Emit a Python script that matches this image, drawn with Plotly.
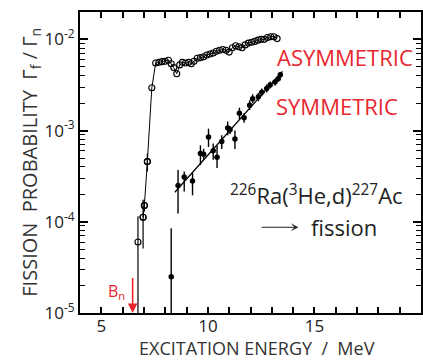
import plotly.graph_objects as go

# Asymmetric fission: open circles joined by a line
asym_e = [6.96, 7.02, 7.16, 7.37, 7.55, 7.70, 7.85, 8.00, 8.15, 8.28, 8.40, 8.54,
          8.68, 8.80, 8.95, 9.10, 9.22, 9.35, 9.50, 9.65, 9.80, 9.95, 10.10, 10.25,
          10.40, 10.55, 10.70, 10.85, 11.00, 11.15, 11.30, 11.45, 11.60, 11.75, 11.90,
          12.05, 12.20, 12.35, 12.50, 12.65, 12.80, 12.95, 13.10, 13.25]
asym_p = [1.12e-4, 1.51e-4, 4.57e-4, 2.95e-3, 5.5e-3, 5.6e-3, 5.7e-3, 5.75e-3, 5.9e-3,
          5.4e-3, 4.9e-3, 4.2e-3, 5.25e-3, 5.6e-3, 5.5e-3, 5.6e-3, 5.4e-3, 5.75e-3,
          6.2e-3, 6.3e-3, 6.45e-3, 6.75e-3, 6.9e-3, 7.1e-3, 7.4e-3, 7.6e-3, 7.75e-3,
          7.6e-3, 7.25e-3, 8.1e-3, 8.5e-3, 8.3e-3, 8.1e-3, 8.7e-3, 9.1e-3, 9.3e-3,
          9.5e-3, 9.8e-3, 1.0e-2, 1.0e-2, 1.05e-2, 1.07e-2, 1.07e-2, 1.02e-2]

# Asymmetric points near threshold with error bars (upper / lower ends)
asym_err_e = [6.72, 6.96, 7.02, 7.16]
asym_err_p = [6.0e-5, 1.12e-4, 1.51e-4, 4.57e-4]
asym_err_hi = [1.15e-4, 1.74e-4, 1.75e-4, 5.6e-4]
asym_err_lo = [1e-6, 5.1e-5, 1.3e-4, 3.55e-4]

# Symmetric fission: filled points with error bars
sym_e = [8.28, 8.60, 8.89, 9.28, 9.65, 9.80, 10.03, 10.25, 10.43, 10.65, 10.93, 11.04,
         11.27, 11.48, 11.70, 11.96, 12.10, 12.37, 12.53, 12.76, 12.92, 13.15, 13.30, 13.40]
sym_p = [2.5e-5, 2.5e-4, 3.1e-4, 2.8e-4, 5.6e-4, 5.5e-4, 8.5e-4, 6.0e-4, 5.1e-4, 7.6e-4,
         1.07e-3, 1.02e-3, 8.1e-4, 1.55e-3, 1.38e-3, 1.9e-3, 2.24e-3, 2.35e-3, 2.63e-3,
         2.9e-3, 3.16e-3, 3.4e-3, 3.7e-3, 4.1e-3]
sym_hi = [8.5e-5, 3.7e-4, 3.55e-4, 3.45e-4, 6.9e-4, 6.3e-4, 1.05e-3, 7.2e-4, 6.8e-4, 8.9e-4,
          1.26e-3, 1.12e-3, 1.0e-3, 1.78e-3, 1.55e-3, 2.15e-3, 2.5e-3, 2.6e-3, 2.9e-3,
          3.2e-3, 3.45e-3, 3.7e-3, 4.0e-3, 4.4e-3]
sym_lo = [1e-6, 1.23e-4, 2.15e-4, 1.95e-4, 4.2e-4, 4.8e-4, 6.6e-4, 4.8e-4, 3.9e-4, 6.3e-4,
          8.9e-4, 9.2e-4, 6.3e-4, 1.32e-3, 1.22e-3, 1.68e-3, 2.0e-3, 2.1e-3, 2.38e-3,
          2.62e-3, 2.9e-3, 3.1e-3, 3.4e-3, 3.8e-3]

# Straight-line fit through the symmetric data
fit_e = [8.45, 13.50]
fit_p = [2.11e-4, 4.45e-3]

# Neutron binding energy
bn_e = 6.47

x_tickvals = [5, 10, 15]
x_ticktext = ["5", "10", "15"]
x_minor = [v for v in range(4, 21) if v not in x_tickvals]
y_tickvals = [1e-5, 1e-4, 1e-3, 1e-2]
y_ticktext = ["10<sup>-5</sup>", "10<sup>-4</sup>", "10<sup>-3</sup>", "10<sup>-2</sup>"]
y_minor = [m * 10.0 ** k for k in (-5, -4, -3, -2) for m in range(2, 10)]

RED = "#e8262e"
INK = "#222222"
FONT = "Open Sans"

fig = go.Figure()

fig.add_trace(go.Scatter(
    x=asym_err_e, y=asym_err_p, mode="markers",
    marker=dict(symbol="circle-open", size=6, color="black", line=dict(width=1.1)),
    error_y=dict(type="data", symmetric=False,
                 array=[h - p for h, p in zip(asym_err_hi, asym_err_p)],
                 arrayminus=[p - l for p, l in zip(asym_err_p, asym_err_lo)],
                 color="black", thickness=1.2, width=0),
    showlegend=False, hoverinfo="skip"))

fig.add_trace(go.Scatter(
    x=asym_e, y=asym_p, mode="lines+markers",
    line=dict(color="black", width=1.0),
    marker=dict(symbol="circle-open", size=6, color="black", line=dict(width=1.1)),
    showlegend=False))

fig.add_trace(go.Scatter(
    x=fit_e, y=fit_p, mode="lines",
    line=dict(color="black", width=1.3), showlegend=False))

fig.add_trace(go.Scatter(
    x=sym_e, y=sym_p, mode="markers",
    marker=dict(symbol="circle", size=5.5, color="black"),
    error_y=dict(type="data", symmetric=False,
                 array=[h - p for h, p in zip(sym_hi, sym_p)],
                 arrayminus=[p - l for p, l in zip(sym_p, sym_lo)],
                 color="black", thickness=1.4, width=0),
    showlegend=False))

# B_n marker arrow
fig.add_annotation(x=bn_e, y=-5, ax=bn_e, ay=-4.60, xref="x", yref="y",
                   axref="x", ayref="y", showarrow=True, arrowhead=2,
                   arrowsize=1.2, arrowwidth=1.6, arrowcolor=RED, text="")
fig.add_annotation(x=5.72, y=-4.76, xref="x", yref="y", showarrow=False,
                   text="B<sub>n</sub>", font=dict(family=FONT, size=16, color=RED))

fig.add_annotation(x=13.15, y=-2.19, xref="x", yref="y", showarrow=False, xanchor="left",
                   text="ASYMMETRIC", font=dict(family=FONT, size=22, color=RED))
fig.add_annotation(x=13.12, y=-2.73, xref="x", yref="y", showarrow=False, xanchor="left",
                   text="SYMMETRIC", font=dict(family=FONT, size=22, color=RED))
fig.add_annotation(x=15.1, y=-3.70, xref="x", yref="y", showarrow=False,
                   text="<sup>226</sup>Ra(<sup>3</sup>He,d)<sup>227</sup>Ac",
                   font=dict(family=FONT, size=22, color=INK))
# thin reaction arrow, then the word
fig.add_annotation(x=14.25, y=-4.06, ax=12.45, ay=-4.06, xref="x", yref="y",
                   axref="x", ayref="y", showarrow=True, arrowhead=3,
                   arrowsize=1.3, arrowwidth=1.0, arrowcolor=INK, text="")
fig.add_annotation(x=16.4, y=-4.06, xref="x", yref="y", showarrow=False,
                   text="fission", font=dict(family=FONT, size=22, color=INK))

# axis titles
fig.add_annotation(x=0.519, y=-0.1595, xref="paper", yref="paper", showarrow=False,
                   xanchor="center", yanchor="bottom", borderpad=0,
                   text="EXCITATION ENERGY  /  MeV",
                   font=dict(family=FONT, size=18, color="#333333"))
fig.add_annotation(x=-0.146, y=0.50, xref="paper", yref="paper", showarrow=False,
                   xanchor="center", yanchor="middle", textangle=-90,
                   text="FISSION  PROBABILITY  \u0393<sub>f</sub> / \u0393<sub>n</sub>",
                   font=dict(family=FONT, size=20, color="#333333"))

axis_common = dict(showline=True, linecolor="black", linewidth=2, mirror="allticks",
                   ticks="inside", tickcolor="black", tickwidth=1.5, showgrid=False,
                   zeroline=False)

fig.update_xaxes(**axis_common, range=[4, 20], tickvals=x_tickvals, ticktext=x_ticktext,
                 ticklen=6, ticklabelstandoff=-3,
                 tickfont=dict(family=FONT, size=17, color=INK),
                 minor=dict(tickvals=x_minor, ticks="inside", ticklen=6,
                            tickcolor="black", tickwidth=1.5))
fig.update_yaxes(**axis_common, type="log", range=[-5, -1.7], tickvals=y_tickvals,
                 ticktext=y_ticktext, ticklen=8,
                 tickfont=dict(family=FONT, size=17, color=INK),
                 minor=dict(tickvals=y_minor, ticks="inside", ticklen=5,
                            tickcolor="black", tickwidth=1.2))

fig.update_layout(width=423, height=361, margin=dict(l=80, r=0, t=12, b=48),
                  paper_bgcolor="white", plot_bgcolor="white")

fig.write_html("out.html")
